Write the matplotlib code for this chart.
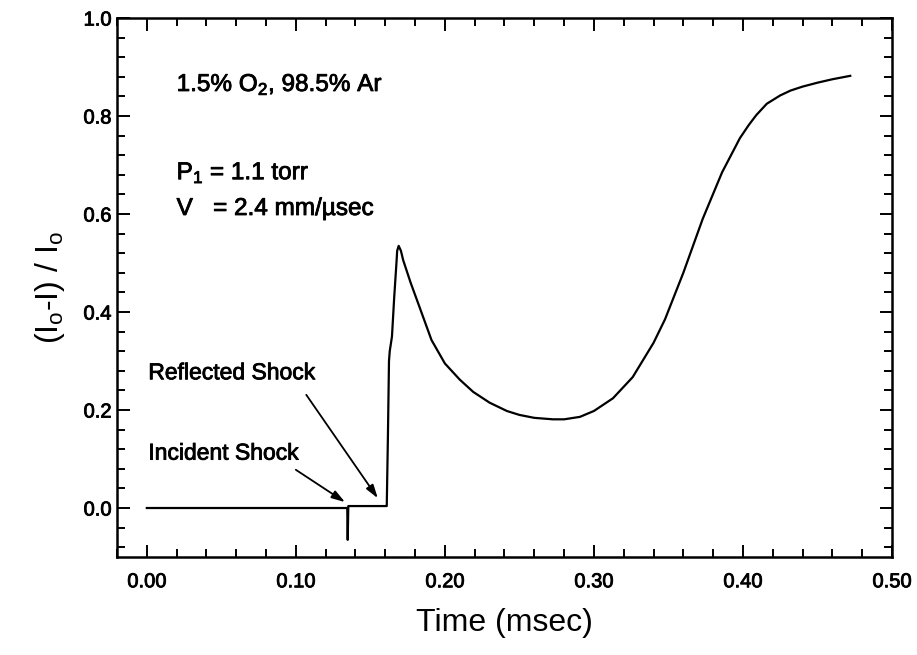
import matplotlib
matplotlib.use("Agg")
import matplotlib.pyplot as plt
import matplotlib.patheffects as pe
from matplotlib.ticker import MultipleLocator, FormatStrFormatter

plt.rcParams['font.family'] = ['Liberation Sans', 'DejaVu Sans']
plt.rcParams['mathtext.default'] = 'regular'

# absorption trace
time_ms = [0.000, 0.050, 0.100, 0.1345, 0.1348, 0.1352, 0.140, 0.161,
           0.1618, 0.1625, 0.163, 0.1645, 0.166, 0.1675, 0.168, 0.169,
           0.1705, 0.172, 0.177, 0.183, 0.191, 0.200, 0.210, 0.219,
           0.230, 0.2416, 0.250, 0.260, 0.2725, 0.280, 0.2906, 0.300,
           0.3128, 0.326, 0.340, 0.3477, 0.360, 0.373, 0.386, 0.398,
           0.404, 0.409, 0.416, 0.425, 0.432, 0.440, 0.450, 0.460,
           0.472]
absorb = [0.000, 0.000, 0.000, 0.000, -0.065, 0.004, 0.004, 0.004,
          0.150, 0.300, 0.320, 0.350, 0.430, 0.500, 0.525, 0.535,
          0.525, 0.506, 0.460, 0.410, 0.343, 0.295, 0.262, 0.237,
          0.215, 0.198, 0.190, 0.184, 0.181, 0.181, 0.186, 0.198,
          0.224, 0.267, 0.337, 0.385, 0.480, 0.590, 0.685, 0.755,
          0.782, 0.802, 0.825, 0.842, 0.852, 0.860, 0.868, 0.875,
          0.882]

conditions = ['1.5% O$_2$, 98.5% Ar', 'P$_1$ = 1.1 torr', 'V   = 2.4 mm/µsec']
cond_y = [0.851, 0.671, 0.598]

shock_labels = ['Reflected Shock', 'Incident Shock']
shock_text_y = [0.276, 0.112]
arrow_tail = [(0.107, 0.231), (0.100, 0.078)]
arrow_tip = [(0.155, 0.020), (0.133, 0.012)]

# scanned print looks a bit heavier than plain Liberation Sans
heavy = [pe.withStroke(linewidth=0.6, foreground='black')]

fig = plt.figure(figsize=(9.17, 6.55), dpi=100)
ax = fig.add_axes([0.1276, 0.1496, 0.8451, 0.8229])

ax.plot(time_ms, absorb, color='black', lw=1.6)

ax.set_xlim(-0.02, 0.50)
ax.set_ylim(-0.10, 1.00)
ax.xaxis.set_major_locator(MultipleLocator(0.1))
ax.xaxis.set_minor_locator(MultipleLocator(0.02))
ax.yaxis.set_major_locator(MultipleLocator(0.2))
ax.yaxis.set_minor_locator(MultipleLocator(0.04))
ax.xaxis.set_major_formatter(FormatStrFormatter('%.2f'))
ax.yaxis.set_major_formatter(FormatStrFormatter('%.1f'))

for s in ax.spines.values():
    s.set_linewidth(1.8)
ax.tick_params(which='both', direction='in', top=True, right=True, width=1.4)
ax.tick_params(which='major', length=9, labelsize=14.5)
ax.tick_params(which='minor', length=5.5)
ax.tick_params(axis='x', which='major', pad=11)
ax.tick_params(axis='y', which='major', pad=4)
for lab in ax.get_xticklabels() + ax.get_yticklabels():
    lab.set_path_effects(heavy)

ax.set_xlabel('Time (msec)', fontsize=23, labelpad=12)
ax.set_ylabel('(I$_o$-I) / I$_o$', fontsize=23, labelpad=12)

for txt, yy in zip(conditions, cond_y):
    ax.text(0.020, yy, txt, fontsize=17.5, va='baseline', ha='left',
            path_effects=heavy)

for txt, yy, tail, tip in zip(shock_labels, shock_text_y, arrow_tail, arrow_tip):
    ax.text(0.001, yy, txt, fontsize=16.5, va='center', ha='left',
            path_effects=heavy)
    ax.annotate('', xy=tip, xytext=tail,
                arrowprops=dict(arrowstyle='-|>,head_length=0.8,head_width=0.25',
                                color='black', lw=1.3, shrinkA=0, shrinkB=0))

fig.savefig('out.png', dpi=100)
